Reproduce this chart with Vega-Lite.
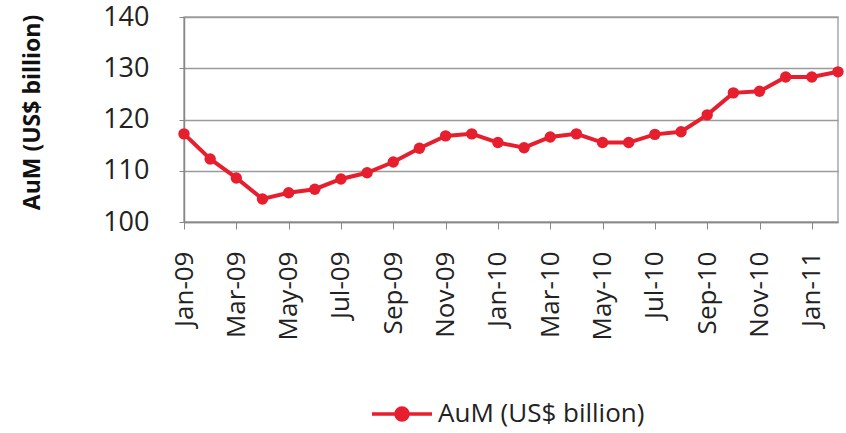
{
  "$schema": "https://vega.github.io/schema/vega-lite/v6.json",
  "width": 654,
  "height": 205,
  "autosize": {"type": "none"},
  "padding": {"left": 184, "top": 17, "right": 8, "bottom": 211},
  "background": "white",
  "config": {
    "font": "Open Sans",
    "view": {"stroke": "#a8a8a8", "strokeWidth": 1.5}
  },
  "data": {
    "values": [
      {"month": "Jan-09", "aum": 117.2, "series": "AuM (US$ billion)"},
      {"month": "Feb-09", "aum": 112.3, "series": "AuM (US$ billion)"},
      {"month": "Mar-09", "aum": 108.6, "series": "AuM (US$ billion)"},
      {"month": "Apr-09", "aum": 104.5, "series": "AuM (US$ billion)"},
      {"month": "May-09", "aum": 105.7, "series": "AuM (US$ billion)"},
      {"month": "Jun-09", "aum": 106.4, "series": "AuM (US$ billion)"},
      {"month": "Jul-09", "aum": 108.4, "series": "AuM (US$ billion)"},
      {"month": "Aug-09", "aum": 109.6, "series": "AuM (US$ billion)"},
      {"month": "Sep-09", "aum": 111.7, "series": "AuM (US$ billion)"},
      {"month": "Oct-09", "aum": 114.4, "series": "AuM (US$ billion)"},
      {"month": "Nov-09", "aum": 116.8, "series": "AuM (US$ billion)"},
      {"month": "Dec-09", "aum": 117.2, "series": "AuM (US$ billion)"},
      {"month": "Jan-10", "aum": 115.5, "series": "AuM (US$ billion)"},
      {"month": "Feb-10", "aum": 114.5, "series": "AuM (US$ billion)"},
      {"month": "Mar-10", "aum": 116.6, "series": "AuM (US$ billion)"},
      {"month": "Apr-10", "aum": 117.2, "series": "AuM (US$ billion)"},
      {"month": "May-10", "aum": 115.5, "series": "AuM (US$ billion)"},
      {"month": "Jun-10", "aum": 115.5, "series": "AuM (US$ billion)"},
      {"month": "Jul-10", "aum": 117.1, "series": "AuM (US$ billion)"},
      {"month": "Aug-10", "aum": 117.6, "series": "AuM (US$ billion)"},
      {"month": "Sep-10", "aum": 120.9, "series": "AuM (US$ billion)"},
      {"month": "Oct-10", "aum": 125.2, "series": "AuM (US$ billion)"},
      {"month": "Nov-10", "aum": 125.5, "series": "AuM (US$ billion)"},
      {"month": "Dec-10", "aum": 128.3, "series": "AuM (US$ billion)"},
      {"month": "Jan-11", "aum": 128.3, "series": "AuM (US$ billion)"},
      {"month": "Feb-11", "aum": 129.3, "series": "AuM (US$ billion)"}
    ]
  },
  "mark": {"type": "line", "strokeWidth": 4, "point": {"size": 130, "filled": true, "opacity": 1}},
  "encoding": {
    "x": {
      "field": "month",
      "type": "ordinal",
      "sort": null,
      "scale": {"type": "point", "padding": 0},
      "axis": {
        "title": null,
        "values": ["Jan-09", "Mar-09", "May-09", "Jul-09", "Sep-09", "Nov-09", "Jan-10", "Mar-10", "May-10", "Jul-10", "Sep-10", "Nov-10", "Jan-11"],
        "labelAngle": 270,
        "labelAlign": "right",
        "labelBaseline": "middle",
        "labelFontSize": 26,
        "labelColor": "#222",
        "labelPadding": 22,
        "tickSize": 7,
        "tickColor": "#888",
        "domainColor": "#888",
        "domainWidth": 1.5,
        "grid": false
      }
    },
    "y": {
      "field": "aum",
      "type": "quantitative",
      "scale": {"domain": [100, 140], "nice": false, "zero": false},
      "axis": {
        "title": "AuM (US$ billion)",
        "titleFontSize": 23,
        "titleFontWeight": "bold",
        "titleColor": "#111",
        "titleX": -152,
        "titleY": 95,
        "titleAngle": 270,
        "titleAlign": "center",
        "titleBaseline": "middle",
        "values": [100, 110, 120, 130, 140],
        "labelFontSize": 27,
        "labelColor": "#222",
        "labelPadding": 30,
        "tickSize": 5,
        "tickColor": "#888",
        "domainColor": "#888",
        "domainWidth": 1.5,
        "gridColor": "#9a9a9a",
        "gridWidth": 1.5
      }
    },
    "color": {
      "field": "series",
      "type": "nominal",
      "scale": {"range": ["#E61E2D"]},
      "legend": {
        "title": null,
        "orient": "none",
        "legendX": 186,
        "legendY": 365,
        "symbolType": "M-1,0L1,0M0.2,0A0.2,0.2,0,1,1,-0.2,0A0.2,0.2,0,1,1,0.2,0",
        "symbolSize": 3600,
        "symbolStrokeWidth": 3.5,
        "symbolFillColor": "#E61E2D",
        "symbolStrokeColor": "#E61E2D",
        "labelFontSize": 26,
        "labelColor": "#222",
        "labelLimit": 400
      }
    }
  }
}
